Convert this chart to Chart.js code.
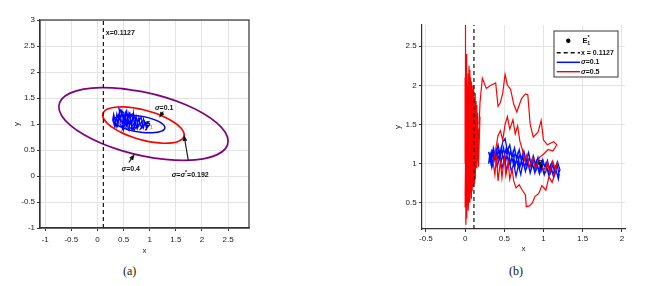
<!DOCTYPE html>
<html>
<head>
<meta charset="utf-8">
<script src="https://cdn.jsdelivr.net/npm/chart.js@4"></script>
<style>
  body { margin: 0; background: #fff; width: 648px; height: 286px; position: relative; overflow: hidden; }
  #ca { position: absolute; left: 0; top: 0; }
  #cb { position: absolute; left: 380px; top: 0; }
  .cap { position: absolute; top: 264px; font: 12px "Liberation Serif", serif; color: #111; }
</style>
</head>
<body>
<canvas id="ca" width="270" height="260" style="width:270px;height:260px"></canvas>
<canvas id="cb" width="268" height="260" style="width:268px;height:260px"></canvas>
<div class="cap" style="left:123px">(a)</div>
<div class="cap" style="left:509px">(b)</div>
<script>
// ---- data ----
const critX = 0.1127;

const xTicksA = [-1, -0.5, 0, 0.5, 1, 1.5, 2, 2.5];
const yTicksA = [-1, -0.5, 0, 0.5, 1, 1.5, 2, 2.5, 3];
const xTicksB = [-0.5, 0, 0.5, 1, 1.5, 2];
const yTicksB = [0.5, 1, 1.5, 2, 2.5];

// (a) ellipses (start at the top, go round, overlap one step)
const purpleEll = [[0.88,1.617],[0.461,1.681],[0.07,1.699],[-0.266,1.670],[-0.523,1.594],[-0.685,1.478],
  [-0.74,1.33],[-0.685,1.159],[-0.523,0.977],[-0.266,0.797],[0.07,0.631],[0.461,0.489],[0.88,0.383],
  [1.299,0.319],[1.69,0.301],[2.026,0.330],[2.283,0.406],[2.445,0.522],[2.50,0.67],[2.445,0.841],
  [2.283,1.023],[2.026,1.203],[1.69,1.369],[1.299,1.511],[0.88,1.617],[0.461,1.681]];
const redEll = [[0.88,1.274],[0.678,1.313],[0.49,1.330],[0.329,1.322],[0.205,1.292],[0.127,1.240],
  [0.10,1.17],[0.127,1.087],[0.205,0.998],[0.329,0.906],[0.49,0.820],[0.678,0.745],[0.88,0.686],
  [1.082,0.647],[1.27,0.630],[1.432,0.638],[1.556,0.669],[1.633,0.720],[1.66,0.79],[1.633,0.873],
  [1.556,0.963],[1.432,1.054],[1.27,1.140],[1.082,1.215],[0.88,1.274],[0.678,1.313]];
const blueEll = [[0.80,1.155],[0.673,1.168],[0.555,1.169],[0.453,1.159],[0.376,1.138],[0.327,1.108],
  [0.31,1.07],[0.327,1.028],[0.376,0.983],[0.453,0.940],[0.555,0.901],[0.673,0.868],[0.80,0.845],
  [0.927,0.832],[1.045,0.831],[1.147,0.841],[1.224,0.862],[1.273,0.892],[1.29,0.93],[1.273,0.973],
  [1.224,1.017],[1.147,1.060],[1.045,1.099],[0.927,1.132],[0.80,1.155],[0.673,1.168]];

// (a) sigma = 0.1 trajectory
const blueA = [[0.30,1.05],[0.32,1.15],[0.35,1.00],[0.33,0.92],[0.37,1.20],[0.40,1.08],[0.38,0.95],
  [0.42,1.25],[0.44,1.12],[0.41,1.30],[0.46,1.20],[0.43,1.00],[0.47,0.93],[0.49,1.15],[0.45,1.27],
  [0.50,1.22],[0.52,1.05],[0.48,0.90],[0.53,0.98],[0.55,1.18],[0.51,1.12],[0.56,1.26],[0.58,1.08],
  [0.54,0.92],[0.59,0.88],[0.61,1.02],[0.57,1.16],[0.62,1.22],[0.64,1.06],[0.60,0.96],[0.65,0.90],
  [0.67,1.12],[0.63,1.18],[0.68,1.20],[0.70,1.02],[0.66,0.94],[0.71,0.88],[0.73,1.10],[0.69,1.15],
  [0.75,1.12],[0.77,0.98],[0.73,0.92],[0.79,0.95],[0.81,1.10],[0.78,1.05],[0.84,1.12],[0.86,0.98],
  [0.82,0.90],[0.88,0.94],[0.90,1.06],[0.87,1.08],[0.93,1.02],[0.95,0.92],[0.91,0.88],[0.97,0.95],
  [1.00,1.00],[0.96,1.04],[0.92,0.98],[0.88,1.10],[0.85,0.94],[0.80,1.02],[0.76,0.90],[0.72,1.05],
  [0.68,0.88],[0.64,1.00],[0.60,1.20],[0.57,0.95],[0.53,1.10],[0.50,0.88],[0.46,1.05],[0.43,1.18],
  [0.39,0.98],[0.36,1.12],[0.32,0.98],[0.29,1.08],[0.31,1.20],[0.34,1.06],[0.37,0.94],[0.40,1.16],
  [0.44,1.06],[0.47,1.24],[0.50,1.00],[0.53,1.20],[0.55,1.02],[0.58,1.15],[0.61,0.92],[0.63,1.12],
  [0.66,1.00],[0.69,1.22],[0.71,0.96],[0.74,1.14],[0.76,1.00],[0.79,1.12],[0.82,0.98],[0.85,1.06],
  [0.88,0.92],[0.91,1.02],[0.94,0.90],[0.97,0.98]];

// (b) sigma = 0.1 trajectory
const blueB = [[0.30,1.15],[0.33,1.02],[0.36,1.20],[0.39,1.06],[0.42,1.24],[0.45,1.10],[0.48,1.28],
  [0.51,1.32],[0.54,1.16],[0.57,1.24],[0.60,1.08],[0.63,1.20],[0.66,1.06],[0.69,1.18],[0.72,1.04],
  [0.75,1.16],[0.78,1.02],[0.81,1.14],[0.84,1.00],[0.87,1.10],[0.90,0.98],[0.93,1.08],[0.96,0.95],
  [0.99,1.05],[1.02,0.94],[1.05,1.04],[1.08,0.92],[1.11,1.02],[1.14,0.90],[1.17,1.00],[1.20,0.86],
  [1.19,0.80],[1.16,0.92],[1.13,0.82],[1.10,0.95],[1.07,0.84],[1.04,0.97],[1.01,0.86],[0.98,0.98],
  [0.95,0.87],[0.92,1.00],[0.89,0.88],[0.86,1.00],[0.83,0.88],[0.80,1.02],[0.77,0.90],[0.74,1.02],
  [0.71,0.86],[0.68,0.98],[0.65,0.84],[0.62,1.00],[0.59,0.90],[0.56,1.04],[0.53,0.92],[0.50,1.06],
  [0.47,0.94],[0.44,1.08],[0.41,0.96],[0.38,1.10],[0.35,0.98],[0.32,1.12],[0.30,1.00],
  [0.31,1.08],[0.34,0.95],[0.37,1.16],[0.40,1.00],[0.43,1.18],[0.46,1.02],[0.49,1.20],[0.52,1.04],
  [0.55,1.18],[0.58,1.00],[0.61,1.14],[0.64,0.98],[0.67,1.12],[0.70,0.96],[0.73,1.10],[0.76,0.95],
  [0.79,1.07],[0.82,0.93],[0.85,1.04],[0.88,0.92],[0.91,1.03],[0.94,0.90],[0.97,1.02],[1.00,0.89],
  [1.03,1.00],[1.06,0.88],[1.09,0.98],[1.12,0.86],[1.15,0.96],[1.18,0.84],[1.21,0.92],
  [1.18,1.02],[1.15,0.88],[1.12,0.99],[1.09,0.88],[1.06,1.00],[1.03,0.90],[1.00,1.02],[0.97,0.91],
  [0.94,1.04],[0.91,0.93],[0.88,1.06],[0.85,0.95],[0.82,1.08],[0.79,0.96],[0.76,1.10],[0.73,0.97],
  [0.70,1.12],[0.67,0.99],[0.64,1.14],[0.61,1.02],[0.58,1.16],[0.55,1.03],[0.52,1.18],[0.49,1.05],
  [0.46,1.20],[0.43,1.06],[0.40,1.18],[0.37,1.04],[0.34,1.16],[0.31,1.02]];

// (b) sigma = 0.5 trajectory
const redB = [[0.97,0.98],[1.02,0.90],[1.05,1.02],[1.08,0.88],[1.12,1.03],[1.15,0.92],[1.18,1.02],
  [1.14,0.86],[1.11,0.76],[1.07,0.83],[1.03,0.66],[0.98,0.72],[0.94,0.62],[0.89,0.58],[0.86,0.50],
  [0.82,0.46],[0.78,0.45],[0.77,0.60],[0.73,0.66],[0.69,0.73],[0.65,0.69],[0.62,0.78],[0.60,0.93],
  [0.57,0.80],[0.55,1.02],[0.52,0.85],[0.50,1.08],[0.47,0.82],[0.45,1.03],[0.42,0.78],[0.40,1.10],
  [0.38,0.86],[0.36,1.00],
  [0.39,1.18],[0.42,1.36],[0.45,1.42],[0.48,1.30],[0.51,1.50],[0.54,1.60],[0.57,1.44],[0.61,1.56],
  [0.64,1.38],[0.67,1.48],[0.70,1.28],[0.73,1.18],[0.76,1.04],[0.79,1.12],[0.82,0.95],[0.86,1.06],
  [0.90,0.94],[0.95,1.08],[1.00,1.12],[1.06,1.18],[1.12,1.16],[1.17,1.24],
  [1.13,1.28],[1.05,1.24],[1.00,1.30],[0.97,1.55],[0.93,1.40],[0.87,1.34],[0.83,1.50],[0.80,1.88],
  [0.77,1.89],[0.72,1.83],[0.66,1.66],[0.62,1.76],[0.58,1.95],[0.54,2.00],[0.51,2.14],[0.48,1.90],
  [0.45,1.78],[0.42,1.73],[0.39,2.03],[0.33,2.00],[0.27,1.96],[0.22,2.09],[0.19,1.78],[0.18,1.50],
  [0.19,1.60],[0.17,0.96],[0.18,1.45],
  [0.17,1.05],[0.16,1.60],[0.14,0.95],[0.15,1.75],[0.12,0.85],[0.13,1.90],[0.10,0.70],[0.11,2.00],
  [0.08,0.60],[0.09,1.85],[0.06,0.50],[0.07,2.10],[0.04,0.40],[0.05,2.25],[0.02,0.30],[0.03,2.00],
  [0.01,0.22],[0.02,2.40],[0.00,0.45],[0.01,2.77],[0.00,0.80],[0.02,1.70],[0.03,0.55],[0.04,2.15],
  [0.05,0.65],[0.06,1.95],[0.07,0.75],[0.08,2.05],[0.09,0.80],[0.10,1.80],[0.11,0.90],[0.12,1.65],
  [0.13,1.00],[0.14,1.55],[0.15,0.98],[0.16,1.45],[0.17,1.00],[0.15,1.30],[0.12,0.75],[0.10,1.95],
  [0.08,0.55],[0.06,2.20],[0.04,0.60],[0.02,1.90],[0.01,0.35],[0.03,1.60],[0.05,0.50],[0.07,1.90],
  [0.09,0.65],[0.11,1.70],[0.13,0.80],[0.14,1.80],[0.12,1.00],[0.10,1.50],[0.08,0.85],[0.06,1.75],
  [0.04,0.75],[0.02,2.20],[0.00,0.60],[0.01,1.50],[0.03,0.45],[0.05,1.85],[0.07,0.62],[0.09,2.00],
  [0.11,0.72],[0.13,1.50],[0.15,1.10],[0.16,1.65],[0.14,1.05],[0.12,1.85],[0.10,0.80],[0.08,1.60],
  [0.06,0.70],[0.04,1.95],[0.02,0.50],[0.01,2.10],[0.00,1.00]];

const equilibrium = [[0.97, 0.97]];

// arrows in (a): tail x, tail y, tip x, tip y
const arrowsA = [[1.26,1.24,1.18,1.12],[0.60,0.26,0.71,0.42],[1.74,0.29,1.655,0.79]];
// labels in (a): anchor (left, middle) in data units; parts = [text, style]
const labelsA = [
  { x: 0.16, y: 2.74, parts: [['x=0.1127']] },
  { x: 1.10, y: 1.31, parts: [['σ','i'],['=0.1']] },
  { x: 0.46, y: 0.13, parts: [['σ','i'],['=0.4']] },
  { x: 1.42, y: 0.02, parts: [['σ','i'],['='],['σ','i'],['*','sup'],['=0.192']] },
  { x: 0.93, y: 1.00, parts: [['E']] },
  { x: 1.00, y: 0.93, parts: [['1','orange']] }
];
const labelsB = [
  { x: 0.93, y: 1.00, parts: [['E']] },
  { x: 1.00, y: 0.93, parts: [['1','orange']] }
];

// ---- helpers ----
const pts = arr => arr.map(([x, y]) => ({ x, y }));
const FONT = '"Liberation Sans", Arial, sans-serif';
const tickFont = { family: FONT, size: 8 };

function drawRich(ctx, x, y, parts, size) {
  ctx.textBaseline = 'middle';
  ctx.textAlign = 'left';
  let cx = x;
  parts.forEach(([t, s]) => {
    let fs = size, dy = 0, col = '#111', st = '';
    if (s === 'i') st = 'italic ';
    if (s === 'sup') { fs = size * 0.75; dy = -size * 0.4; }
    if (s === 'sub') { fs = size * 0.75; dy = size * 0.35; }
    if (s === 'orange') { fs = size * 0.8; col = '#e69a00'; }
    ctx.font = st + 'bold ' + fs + 'px ' + FONT;
    ctx.fillStyle = col;
    ctx.fillText(t, cx, y + dy);
    cx += ctx.measureText(t).width;
  });
}

function drawArrow(ctx, x0, y0, x1, y1) {
  const ang = Math.atan2(y1 - y0, x1 - x0), L = 6, W = 2.4;
  ctx.strokeStyle = '#111'; ctx.fillStyle = '#111'; ctx.lineWidth = 1.1;
  ctx.beginPath(); ctx.moveTo(x0, y0);
  ctx.lineTo(x1 - L * 0.8 * Math.cos(ang), y1 - L * 0.8 * Math.sin(ang)); ctx.stroke();
  ctx.beginPath();
  ctx.moveTo(x1, y1);
  ctx.lineTo(x1 - L * Math.cos(ang) + W * Math.sin(ang), y1 - L * Math.sin(ang) - W * Math.cos(ang));
  ctx.lineTo(x1 - L * Math.cos(ang) - W * Math.sin(ang), y1 - L * Math.sin(ang) + W * Math.cos(ang));
  ctx.closePath(); ctx.fill();
}

function axis(min, max, ticks, size, tickPad, extra) {
  return Object.assign({
    type: 'linear', min, max,
    afterBuildTicks: s => { s.ticks = ticks.map(v => ({ value: v })); },
    afterFit: s => { if (s.isHorizontal()) s.height = size; else s.width = size; },
    grid: { color: '#e4e4e4', lineWidth: 1, tickColor: '#333', tickLength: 3 },
    border: { color: '#333', width: 1.2 },
    ticks: { font: tickFont, color: '#222', padding: tickPad, autoSkip: false, maxRotation: 0, callback: v => String(v) }
  }, extra);
}

// ---- chart (a) ----
const boxAndNotes = {
  id: 'boxAndNotes',
  afterDatasetsDraw(chart) {
    const { ctx, chartArea: a, scales: { x, y } } = chart;
    ctx.save();
    ctx.strokeStyle = '#333'; ctx.lineWidth = 1.2;
    ctx.strokeRect(a.left, a.top, a.right - a.left, a.bottom - a.top);
    arrowsA.forEach(([x0, y0, x1, y1]) =>
      drawArrow(ctx, x.getPixelForValue(x0), y.getPixelForValue(y0), x.getPixelForValue(x1), y.getPixelForValue(y1)));
    labelsA.forEach(l => drawRich(ctx, x.getPixelForValue(l.x), y.getPixelForValue(l.y), l.parts, 7));
    ctx.restore();
  }
};

new Chart(document.getElementById('ca'), {
  type: 'scatter',
  data: {
    datasets: [
      { data: pts([[critX, -1], [critX, 3]]), borderColor: '#111', borderWidth: 1.2, borderDash: [4, 3], order: 0 },
      { data: pts(purpleEll), borderColor: '#800080', borderWidth: 1.7, tension: 0.34, order: 1 },
      { data: pts(redEll), borderColor: '#ff0000', borderWidth: 1.7, tension: 0.34, order: 2 },
      { data: pts(blueEll), borderColor: '#0000ff', borderWidth: 1.5, tension: 0.34, order: 3 },
      { data: pts(blueA), borderColor: '#0000ff', borderWidth: 1.1, order: 4 }
    ].map(d => Object.assign({ showLine: true, pointRadius: 0, fill: false }, d))
  },
  options: {
    responsive: false, animation: false, events: [],
    layout: { padding: { left: 0, top: 20, right: 21, bottom: 0 } },
    plugins: { legend: { display: false }, tooltip: { enabled: false } },
    scales: {
      x: axis(-1.1, 2.9, xTicksA, 32, 4, { title: { display: true, text: 'x', font: tickFont, color: '#222', padding: { top: 0, bottom: 4.5 } } }),
      y: axis(-1, 3, yTicksA, 40, 2, { title: { display: true, text: 'y', font: tickFont, color: '#222', padding: { top: 12, bottom: 0 } } })
    }
  },
  plugins: [boxAndNotes]
});

// ---- chart (b) ----
const legendB = {
  id: 'legendB',
  afterDatasetsDraw(chart) {
    const { ctx, scales: { x, y } } = chart;
    ctx.save();
    labelsB.forEach(l => drawRich(ctx, x.getPixelForValue(l.x), y.getPixelForValue(l.y), l.parts, 6.5));
    const bx = 174, by = 31, bw = 64, bh = 46;
    ctx.fillStyle = '#fff'; ctx.fillRect(bx, by, bw, bh);
    ctx.strokeStyle = '#222'; ctx.lineWidth = 0.9; ctx.strokeRect(bx, by, bw, bh);
    const rows = [40.7, 52.7, 62.3, 71.7];
    const ds = chart.data.datasets;
    ctx.fillStyle = '#000';
    ctx.beginPath(); ctx.arc(188.3, rows[0], 2.2, 0, Math.PI * 2); ctx.fill();
    drawRich(ctx, 202.5, rows[0], [['E'], ['*', 'sup']], 7.5);
    drawRich(ctx, 207.3, rows[0] + 2.6, [['1']], 5.2);
    [[1, rows[1]], [2, rows[2]], [3, rows[3]]].forEach(([i, ry]) => {
      const d = ds[i];
      ctx.strokeStyle = d.borderColor; ctx.lineWidth = d.borderWidth + 0.2;
      ctx.setLineDash(d.borderDash || []);
      ctx.beginPath(); ctx.moveTo(176.7, ry); ctx.lineTo(200, ry); ctx.stroke();
      ctx.setLineDash([]);
      drawRich(ctx, 201, ry, d.legendParts, 7);
    });
    ctx.restore();
  }
};

new Chart(document.getElementById('cb'), {
  type: 'scatter',
  data: {
    datasets: [
      { data: pts(equilibrium), pointRadius: 1.5, pointBackgroundColor: '#000', pointBorderWidth: 0, showLine: false, order: 0 },
      { data: pts([[critX, 0.165], [critX, 2.77]]), borderColor: '#111', borderWidth: 1.2, borderDash: [4, 3], order: 1, legendParts: [['x = 0.1127']] },
      { data: pts(blueB), borderColor: '#0010ff', borderWidth: 1.3, order: 3, legendParts: [['σ', 'i'], ['=0.1']] },
      { data: pts(redB), borderColor: '#ff0000', borderWidth: 1.2, order: 2, legendParts: [['σ', 'i'], ['=0.5']] }
    ].map(d => Object.assign({ showLine: true, pointRadius: 0, fill: false }, d))
  },
  options: {
    responsive: false, animation: false, events: [],
    layout: { padding: { left: 0, top: 25, right: 23, bottom: 0 } },
    plugins: { legend: { display: false }, tooltip: { enabled: false } },
    scales: {
      x: axis(-0.55, 2.04, xTicksB, 31, 1.5, { title: { display: true, text: 'x', font: tickFont, color: '#222', padding: { top: 0, bottom: 6 } } }),
      y: axis(0.165, 2.77, yTicksB, 42, 2.3, { title: { display: true, text: 'y', font: tickFont, color: '#222', padding: { top: 13, bottom: 0 } } })
    }
  },
  plugins: [legendB]
});
</script>
</body>
</html>
